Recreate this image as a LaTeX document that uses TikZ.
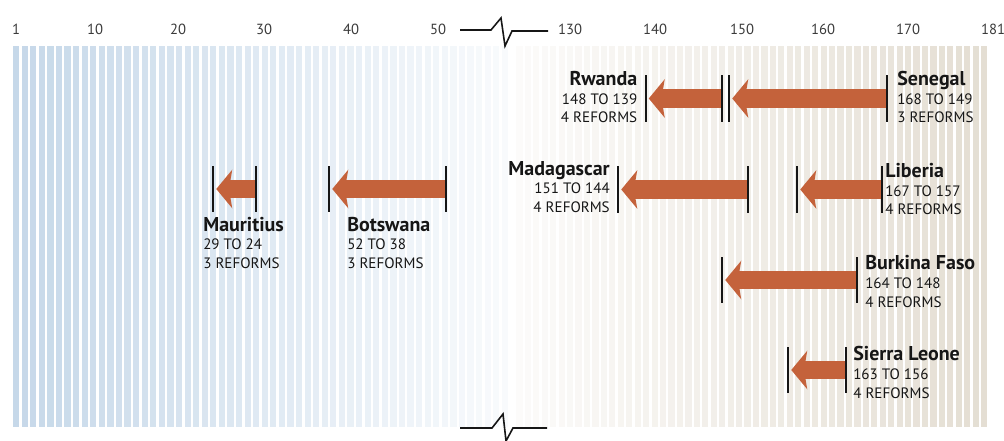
\documentclass[tikz,border=0pt]{standalone}
\usepackage{fontspec}
\setmainfont{PT Sans}
\usetikzlibrary{arrows.meta,calc}
\definecolor{rankink}{HTML}{161616}
\definecolor{rankmuted}{HTML}{3A3A3A}
\definecolor{rankblue}{HTML}{C6D8E9}
\definecolor{ranktan}{HTML}{E4DED3}
\definecolor{reformorange}{HTML}{C4623B}
\newcommand{\cty}[1]{{\fontsize{15}{14}\selectfont\bfseries #1}}
\tikzset{
  axislabel/.style={font=\fontsize{11}{13}\selectfont, text=rankmuted, inner sep=0pt},
  countrytext/.style={font=\fontsize{11.3}{14}\selectfont, text=rankink, inner sep=0pt},
  tickbar/.style={draw=none, fill=rankink, minimum width=1.5pt, minimum height=35pt,
    inner sep=0pt},
  reformflow/.style={-{Stealth[length=12pt, width=29pt, inset=2.5pt, line width=0pt]},
    draw=reformorange, line width=14pt, shorten >=1.5pt},
  breakline/.style={draw=rankink, line width=1.2pt}
}

\begin{document}
\begin{tikzpicture}[x=0.75pt,y=-0.75pt]
  \useasboundingbox (0,0) rectangle (1004,441);
  % rank stripes
  \foreach \r in {1,...,58} {
    \pgfmathsetmacro{\shade}{max(0,100-(\r-1)*1.55)}
    \fill[rankblue!\shade!white] ({13+(\r-1)*8.575},46) rectangle ++(6.2,381);
  }
  \foreach \r in {124,...,179} {
    \pgfmathsetmacro{\shade}{12+(\r-124)*1.6}
    \fill[ranktan!\shade!white] ({567+(\r-130)*8.45},46) rectangle ++(6.2,381);
  }

  % scale break
  \draw[breakline] (460,30) -- ++(31,0) -- ++(10,-12) -- ++(4,28) -- ++(7,-15) -- ++(36,0);
  \draw[breakline] (460,428) -- ++(32,0) -- ++(11,-14) -- ++(3,27) -- ++(7,-13) -- ++(34,0);
  \foreach \x/\lab in {16/1,95/10,178/20,264/30,351/40,438/50,570/130,655/140,742/150,823/160,908/170,993/181} {
    \node[axislabel] (ax\lab) at (\x,29) {\lab};
  }

  % rank moves
  \node[tickbar] (rwandaA) at (722,98.5) {};
  \node[tickbar] (rwandaB) at (645.5,98.5) {};
  \node[tickbar] (senegalA) at (887,98.5) {};
  \node[tickbar] (senegalB) at (729,98.5) {};
  \node[tickbar] (madagA) at (748,189.5) {};
  \node[tickbar] (madagB) at (618,189.5) {};
  \node[tickbar] (liberiaA) at (882,189.5) {};
  \node[tickbar] (liberiaB) at (797,189.5) {};
  \node[tickbar] (mauriA) at (256,189) {};
  \node[tickbar] (mauriB) at (213,189) {};
  \node[tickbar] (botsA) at (446,189) {};
  \node[tickbar] (botsB) at (329,189) {};
  \node[tickbar] (burkinaA) at (857,280) {};
  \node[tickbar] (burkinaB) at (722,280) {};
  \node[tickbar] (sierraA) at (846,370) {};
  \node[tickbar] (sierraB) at (788,370) {};
  \foreach \c in {rwanda,senegal,madag,liberia,mauri,bots,burkina,sierra} {
    \draw[reformflow] (\c A) -- (\c B);
  }

  \node[countrytext, anchor=north east, align=right] (rwandalab) at ($(rwandaB.north)+(-8,-4)$)
    {\cty{Rwanda}\\148 TO 139\\4 REFORMS};
  \node[countrytext, anchor=north west, align=left] (senegallab) at ($(senegalA.north)+(10,-4)$)
    {\cty{Senegal}\\168 TO 149\\3 REFORMS};
  \node[countrytext, anchor=north east, align=right] (madaglab) at ($(madagB.north)+(-8,-5)$)
    {\cty{Madagascar}\\151 TO 144\\4 REFORMS};
  \node[countrytext, anchor=north west, align=left] (liberialab) at ($(liberiaA.north)+(3,-3)$)
    {\cty{Liberia}\\167 TO 157\\4 REFORMS};
  \node[countrytext, anchor=north west, align=left] (maurilab) at ($(mauriB.south)+(-10,4)$)
    {\cty{Mauritius}\\29 TO 24\\3 REFORMS};
  \node[countrytext, anchor=north west, align=left] (botslab) at ($(botsB.south)+(18,4)$)
    {\cty{Botswana}\\52 TO 38\\3 REFORMS};
  \node[countrytext, anchor=north west, align=left] (burkinalab) at ($(burkinaA.north)+(8,-1)$)
    {\cty{Burkina Faso}\\164 TO 148\\4 REFORMS};
  \node[countrytext, anchor=north west, align=left] (sierralab) at ($(sierraA.north)+(7,0)$)
    {\cty{Sierra Leone}\\163 TO 156\\4 REFORMS};
\end{tikzpicture}
\end{document}
